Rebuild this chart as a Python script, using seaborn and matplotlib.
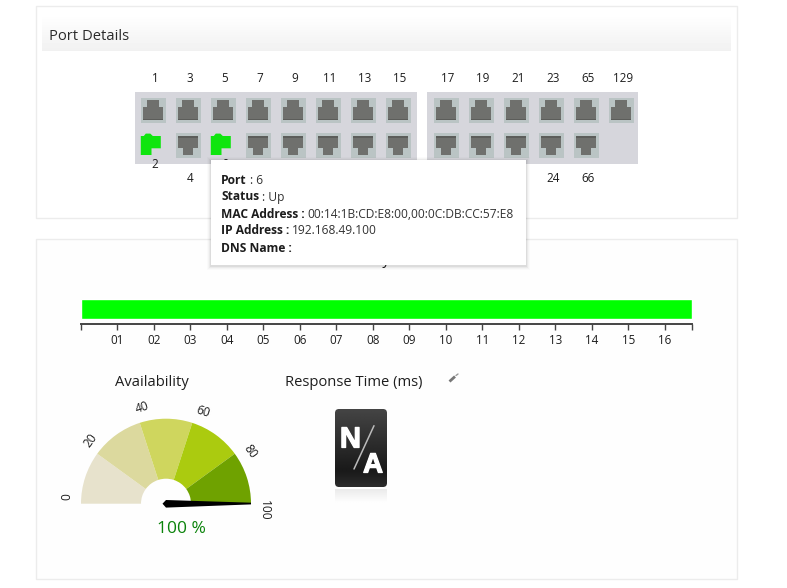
#!/usr/bin/env python3
# Port details panel + availability bar and gauge, drawn on a pixel-sized canvas

import numpy as np
import matplotlib
matplotlib.use("Agg")
import matplotlib.pyplot as plt
import matplotlib.patheffects as pe
from matplotlib.patches import Rectangle, Polygon, FancyBboxPatch
import seaborn as sns

W, H = 787, 588
FONT = "Open Sans"

# DATA
top_ports_left = ["1", "3", "5", "7", "9", "11", "13", "15"]
bottom_ports_left = ["2", "4", "6", "8", "10", "12", "14", "16"]
top_ports_right = ["17", "19", "21", "23", "65", "129"]
bottom_ports_right = ["18", "20", "22", "24", "66"]
ports_up = ["2", "6"]
# these labels sit fully under the tooltip
covered_labels = ["8", "10", "12", "14", "16", "18", "20", "22"]

tooltip_labels = ["Port", "Status", "MAC Address :", "IP Address :", "DNS Name :"]
tooltip_values = [": 6", ": Up", "00:14:1B:CD:E8:00,00:0C:DB:CC:57:E8", "192.168.49.100", ""]

bar_hours = [16.74]
hour_ticks = [1, 2, 3, 4, 5, 6, 7, 8, 9, 10, 11, 12, 13, 14, 15, 16]
hour_labels = ["01", "02", "03", "04", "05", "06", "07", "08", "09", "10", "11", "12", "13", "14", "15", "16"]

gauge_bands = [20, 20, 20, 20, 20]
gauge_ticks = [0, 20, 40, 60, 80, 100]
availability = 100

# COLOURS
BORDER = "#ececec"
BLOCK = "#d6d6dc"
CELL = "#bac4c4"
JACK = "#6f706d"
JACK_DARK = "#5c5d5a"
GREEN = "#0fe50f"
TEXT = "#1e1e1e"
band_colors = ["#e7e2cc", "#dcd99e", "#cfd65e", "#abcb0f", "#6fa200"]


def px_axes(fig, x0, y0, x1, y1):
    # inset axes given in image pixels (y going down)
    return fig.add_axes([x0 / W, 1 - y1 / H, (x1 - x0) / W, (y1 - y0) / H])


def draw_port(ax, label, cx, cy, top_row):
    x0, y0 = cx - 12.5, cy - 12.5
    if label in ports_up:
        pts = [(0, 3), (3, 3), (5, 0.6), (9.5, 0.6), (12, 3), (20, 3), (20, 15.3), (10.7, 15.3), (10.7, 22), (0, 22)]
        ax.add_patch(Polygon([(x0 + u, y0 + v) for u, v in pts], color=GREEN, lw=0, zorder=3))
        return
    ax.add_patch(Rectangle((x0, y0), 25, 25, color=CELL, lw=0, zorder=2))
    if top_row:
        pts = [(6, 2.5), (18.6, 2.5), (18.6, 9), (22.6, 9), (22.6, 22.5), (2.2, 22.5), (2.2, 9), (6, 9)]
        edge = Rectangle((x0 + 2.2, y0 + 21), 20.4, 1.5, color=JACK_DARK, lw=0, zorder=4)
    else:
        pts = [(2.2, 3), (22.6, 3), (22.6, 15), (17.5, 15), (17.5, 22), (7.3, 22), (7.3, 15), (2.2, 15)]
        edge = Rectangle((x0 + 2.2, y0 + 3), 20.4, 1.5, color=JACK_DARK, lw=0, zorder=4)
    ax.add_patch(Polygon([(x0 + u, y0 + v) for u, v in pts], color=JACK, lw=0, zorder=3))
    ax.add_patch(edge)


def draw_block(ax, top, bottom, first_x):
    # jacks sit a touch left of their number
    for i, label in enumerate(top):
        cx = first_x + 35 * i
        ax.text(cx, 78, label, ha="center", va="center", fontsize=8.4, color=TEXT, zorder=5)
        draw_port(ax, label, cx - 1.7, 110.2, True)
    for i, label in enumerate(bottom):
        cx = first_x + 35 * i
        y = 164.5 if label in ports_up else 178
        if label not in covered_labels:
            ax.text(cx, y, label, ha="center", va="center", fontsize=8.4, color=TEXT, zorder=5)
        draw_port(ax, label, cx - 1.7, 145.5, False)


def main():
    sns.set_theme(style="white", font=FONT)
    fig = plt.figure(figsize=(W / 100, H / 100), dpi=100, facecolor="white")

    ax = fig.add_axes([0, 0, 1, 1])
    ax.set_xlim(0, W)
    ax.set_ylim(H, 0)
    ax.axis("off")

    # panels
    ax.add_patch(Rectangle((36, 6), 701, 212, fc="white", ec=BORDER, lw=1))
    ax.add_patch(Rectangle((36, 239), 701, 340, fc="#fefefe", ec=BORDER, lw=1))
    shade = np.linspace(0.995, 0.945, 34).reshape(-1, 1)
    ax.imshow(shade, extent=(42, 731, 51, 17), aspect="auto", cmap="gray", vmin=0, vmax=1, zorder=1)
    ax.set_xlim(0, W)
    ax.set_ylim(H, 0)
    ax.text(49, 36, "Port Details", ha="left", va="center", fontsize=10.6, color="#2a2a2a", zorder=2)

    # switch blocks
    ax.add_patch(Rectangle((135, 92), 282, 72, color=BLOCK, lw=0, zorder=1))
    ax.add_patch(Rectangle((427, 92), 211, 72, color=BLOCK, lw=0, zorder=1))
    draw_block(ax, top_ports_left, bottom_ports_left, 155)
    draw_block(ax, top_ports_right, bottom_ports_right, 447.7)

    # title hidden behind the tooltip, only the tail of the y shows
    ax.text(390, 260, "Availability", ha="right", va="center", fontsize=10.6, color=TEXT, zorder=2)

    # tooltip
    for grow, alpha in [(4, 0.015), (3, 0.025), (2, 0.04), (1, 0.06)]:
        ax.add_patch(Rectangle((211 - grow, 160 - grow + 1), 315 + 2 * grow, 105 + 2 * grow,
                               fc="black", alpha=alpha, lw=0, zorder=6))
    ax.add_patch(Rectangle((211, 160), 315, 105, fc="white", lw=0, zorder=7))
    renderer = fig.canvas.get_renderer()
    for i, (name, value) in enumerate(zip(tooltip_labels, tooltip_values)):
        y = 180 + 17 * i
        t = ax.text(221, y, name, ha="left", va="center", fontsize=8.65, fontweight="bold", color="#1c1c1c", zorder=8)
        end = t.get_window_extent(renderer).x1
        ax.text(end + 3, y, value, ha="left", va="center", fontsize=8.65, color="#333333", zorder=8)

    # availability bar
    bar_ax = px_axes(fig, 80.6, 294, 692, 324)
    sns.barplot(x=bar_hours, y=[0], orient="h", width=1.04, color="#00ff00", saturation=1, ax=bar_ax)
    bar_ax.set_xlim(0, bar_hours[0])
    bar_ax.set_ylim(0.75, -0.75)
    bar_ax.patch.set_alpha(0)
    sns.despine(ax=bar_ax, left=True, top=True, right=True)
    bar_ax.spines["bottom"].set_color("#444444")
    bar_ax.spines["bottom"].set_linewidth(1.4)
    bar_ax.set_yticks([])
    bar_ax.set_xticks([0] + hour_ticks + bar_hours)
    bar_ax.set_xticklabels([""] + hour_labels + [""])
    bar_ax.tick_params(axis="x", bottom=True, length=4, width=1, color="#444444", pad=3,
                       labelsize=8.4, labelcolor=TEXT)
    bar_ax.set_xlabel("")
    bar_ax.set_ylabel("")

    # gauge, the empty lower half is the last slice
    gauge_ax = px_axes(fig, 81, 418.7, 251, 588.7)
    gauge_ax.pie(gauge_bands + [sum(gauge_bands)], colors=band_colors + ["none"], startangle=180,
                 counterclock=False, radius=1, wedgeprops={"width": 60 / 85, "lw": 0})
    gauge_ax.set_xlim(-1, 1)
    gauge_ax.set_ylim(-1, 1)
    gauge_ax.patch.set_alpha(0)
    for v in gauge_ticks:
        ang = np.radians(176 - 1.8 * v)
        gauge_ax.text(99 / 85 * np.cos(ang), 99 / 85 * np.sin(ang), str(v), ha="center", va="center",
                      rotation=90 - 1.8 * v, rotation_mode="anchor", fontsize=8.6, color=TEXT)
    # needle follows the value
    a = np.radians(180 - 1.8 * availability)
    along = np.array([np.cos(a), np.sin(a)])
    side = np.array([-along[1], along[0]])
    tail = [(-3.5, 0), (0, 3.7), (85, 1), (85, -0.7), (0, -3.9)]
    gauge_ax.add_patch(Polygon([(along * p + side * q) / 85 for p, q in tail], color="black", lw=0, zorder=5))

    ax.text(151.5, 382, "Availability", ha="center", va="center", fontsize=10.6, color=TEXT)
    ax.text(181, 529, f"{availability} %", ha="center", va="center", fontsize=12.5, color="#0a830a")
    ax.text(285, 382, "Response Time (ms)", ha="left", va="center", fontsize=10.6, color=TEXT)

    # pencil icon
    ax.plot([449.5, 455], [381.5, 376.5], color="#777777", lw=2, solid_capstyle="butt")
    ax.plot([456, 458], [375.5, 374], color="#999999", lw=1)

    # N/A tile with reflection
    tile = FancyBboxPatch((335, 409), 52, 78, boxstyle="round,pad=0,rounding_size=4", fc="none", ec="none", zorder=3)
    ax.add_patch(tile)
    grad = np.interp(np.linspace(0, 1, 78), [0, 0.8, 1], [0.27, 0.1, 0.17]).reshape(-1, 1)
    im = ax.imshow(grad, extent=(335, 387, 487, 409), aspect="auto", cmap="gray", vmin=0, vmax=1,
                   interpolation="bilinear", zorder=3)
    im.set_clip_path(tile)
    fade = np.linspace(0.92, 0.995, 14).reshape(-1, 1)
    ax.imshow(fade, extent=(335, 387, 503, 489), aspect="auto", cmap="gray", vmin=0, vmax=1,
              interpolation="bilinear", zorder=3)
    ax.set_xlim(0, W)
    ax.set_ylim(H, 0)
    heavy = [pe.withStroke(linewidth=0.9, foreground="white")]
    ax.text(350.5, 436.5, "N", ha="center", va="center_baseline", fontsize=21, fontweight="bold", color="white",
            family="Liberation Sans", path_effects=heavy, zorder=4)
    ax.text(373, 462.5, "A", ha="center", va="center_baseline", fontsize=20, fontweight="bold", color="white",
            family="Liberation Sans", path_effects=heavy, zorder=4)
    ax.plot([374, 354], [425.7, 469], color="#bbbbbb", lw=1.1, zorder=4)

    fig.savefig("out.png", dpi=100, facecolor="white")
    plt.close(fig)


if __name__ == "__main__":
    main()
